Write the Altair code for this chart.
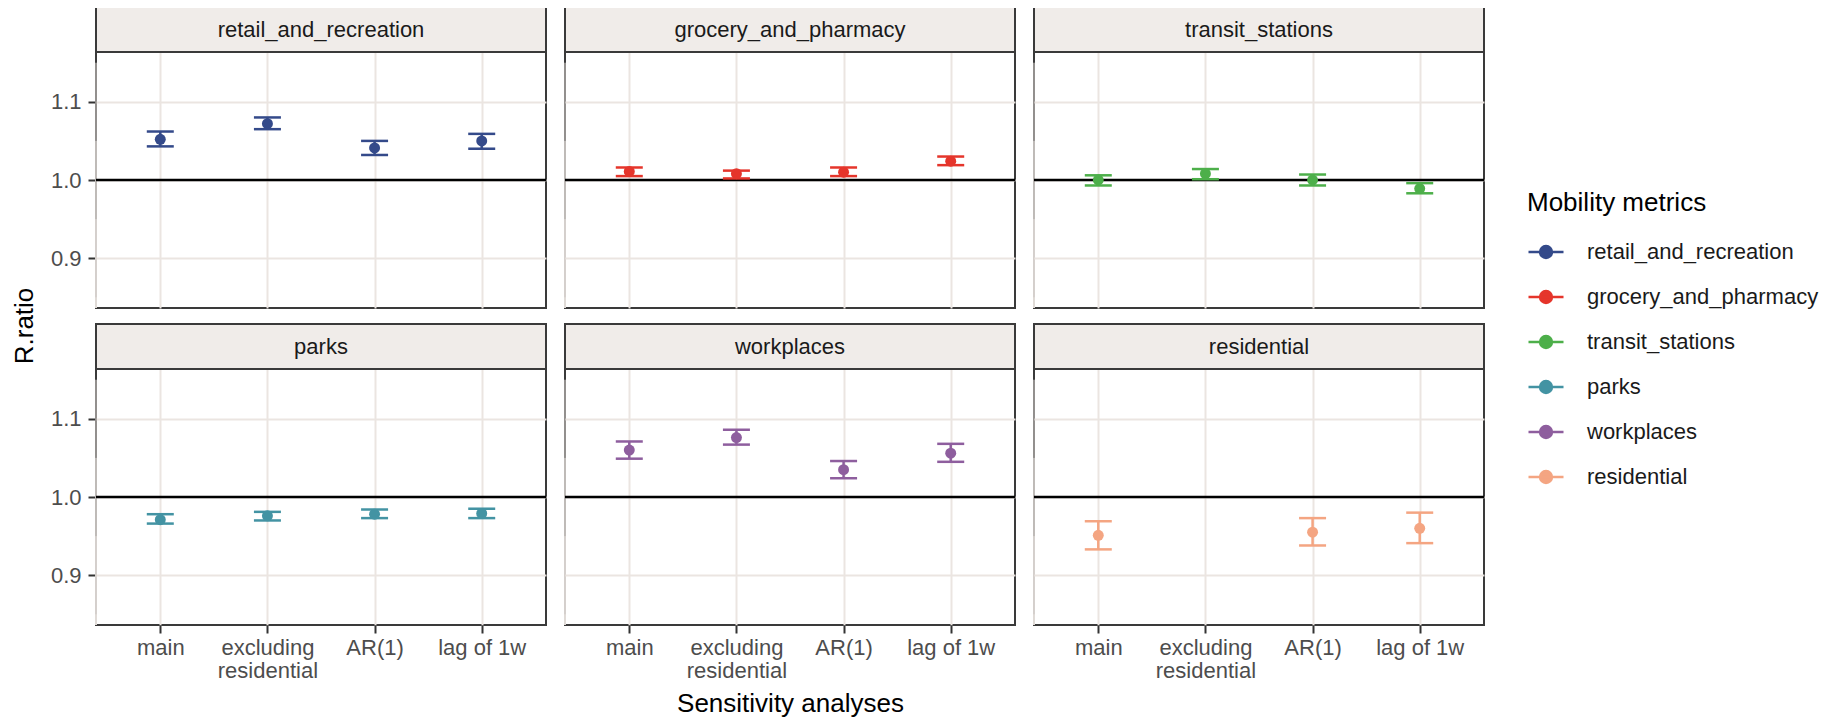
import altair as alt
import pandas as pd

# ---------------- data ----------------
metrics = ["retail_and_recreation", "grocery_and_pharmacy", "transit_stations",
           "parks", "workplaces", "residential"]
analyses = ["main", "excluding residential", "AR(1)", "lag of 1w"]
colors = ["#344A8A", "#E5352B", "#4DAF4A", "#4393A3", "#8E5E9E", "#F4A582"]

metric_col = (["retail_and_recreation"] * 4 + ["grocery_and_pharmacy"] * 4 +
              ["transit_stations"] * 4 + ["parks"] * 4 + ["workplaces"] * 4 +
              ["residential"] * 3)
analysis_col = (analyses * 5) + ["main", "AR(1)", "lag of 1w"]
est = [1.052, 1.072, 1.041, 1.050,
       1.011, 1.008, 1.010, 1.024,
       1.000, 1.008, 1.000, 0.989,
       0.971, 0.976, 0.978, 0.979,
       1.060, 1.076, 1.035, 1.056,
       0.951, 0.955, 0.960]
lo = [1.043, 1.065, 1.032, 1.040,
      1.005, 1.002, 1.005, 1.019,
      0.993, 1.001, 0.993, 0.983,
      0.966, 0.970, 0.973, 0.973,
      1.049, 1.067, 1.024, 1.045,
      0.933, 0.938, 0.941]
hi = [1.062, 1.080, 1.050, 1.059,
      1.016, 1.012, 1.016, 1.030,
      1.006, 1.014, 1.007, 0.996,
      0.978, 0.981, 0.984, 0.985,
      1.071, 1.086, 1.046, 1.068,
      0.969, 0.973, 0.980]

major_breaks = [0.9, 1.0, 1.1]
minor_breaks = [0.85, 0.95, 1.05, 1.15]
y_domain = [0.8363, 1.1637]
ref_value = 1.0
x_title = "Sensitivity analyses"
y_title = "R.ratio"
legend_title = "Mobility metrics"

df = pd.DataFrame({"metric": metric_col, "analysis": analysis_col,
                   "est": est, "lo": lo, "hi": hi})

# ---------------- styling ----------------
FONT = "Liberation Sans"
W, H = 450, 256
STRIP = 45
BORDER = "#3A3A3A"
GRID = "#EBE5E1"

color_scale = alt.Scale(domain=metrics, range=colors)
symbol_path = ("M-1,0L1,0M0.34,0A0.34,0.34,0,1,1,-0.34,0"
               "A0.34,0.34,0,1,1,0.34,0Z")
legend = alt.Legend(title=legend_title, orient="none",
                    legendX=1431, legendY=138, padding=0,
                    symbolType=symbol_path, symbolSize=1225,
                    symbolStrokeWidth=2.5, symbolOpacity=1, rowPadding=15,
                    labelOffset=22, titlePadding=17, labelLimit=400)
color_enc = alt.Color("metric:N", scale=color_scale, legend=legend)

x_scale = alt.Scale(type="point", padding=0.6, domain=analyses)
y_scale = alt.Scale(domain=y_domain, nice=False, zero=False)
LABEL_EXPR = ("datum.label == 'excluding residential' ? "
              "['excluding', 'residential'] : datum.label")


def make_panel(i):
    m = metrics[i]
    row, col = divmod(i, 3)
    show_x = row == 1
    show_y = col == 0
    x_kw = dict(labels=show_x, ticks=show_x, grid=True, labelAngle=0,
                labelExpr=LABEL_EXPR, labelLineHeight=23, labelPadding=4,
                titlePadding=9)
    x_axis = alt.Axis(title=x_title, **x_kw) if (row == 1 and col == 1) \
        else alt.Axis(title=None, **x_kw)
    y_axis = alt.Axis(title=None, values=major_breaks, format=".1f",
                      labels=show_y, ticks=show_y, grid=True, labelPadding=7)
    xenc = alt.X("analysis:N", sort=analyses, scale=x_scale, axis=x_axis)

    def yenc(f):
        return alt.Y(f, scale=y_scale, axis=y_axis)

    base = alt.Chart()
    agg = dict(n="count()", groupby=["metric"])

    minor = base.transform_aggregate(**agg).transform_calculate(
        v=str(minor_breaks)
    ).transform_flatten(["v"]).mark_rule(color=GRID, strokeWidth=1).encode(
        x=xenc, y=yenc("v:Q")
    )
    ref = base.transform_aggregate(**agg).transform_calculate(
        r=str(ref_value)
    ).mark_rule(color="black", strokeWidth=2.5).encode(y=yenc("r:Q"))
    bars = base.mark_rule(strokeWidth=2.5, opacity=1).encode(
        x=xenc, y=yenc("lo:Q"), y2="hi:Q", color=color_enc
    )
    cap_lo = base.mark_tick(size=27, thickness=2.5, opacity=1).encode(
        x=xenc, y=yenc("lo:Q"), color=color_enc
    )
    cap_hi = base.mark_tick(size=27, thickness=2.5, opacity=1).encode(
        x=xenc, y=yenc("hi:Q"), color=color_enc
    )
    points = base.mark_point(filled=True, size=120, opacity=1).encode(
        x=xenc, y=yenc("est:Q"), color=color_enc
    )
    strip_bg = base.transform_aggregate(**agg).mark_rect(
        fill="#F0ECE9", stroke=BORDER, strokeWidth=2
    ).encode(x=alt.value(0), x2=alt.value(W), y=alt.value(-STRIP), y2=alt.value(0))
    strip_txt = base.transform_aggregate(**agg).mark_text(
        font=FONT, fontSize=22, color="#1A1A1A"
    ).encode(x=alt.value(W / 2), y=alt.value(-STRIP / 2), text="metric:N")

    return alt.layer(minor, ref, bars, cap_lo, cap_hi, points, strip_bg, strip_txt,
                     data=df).transform_filter(
        alt.datum.metric == m
    ).properties(width=W, height=H)


top = alt.hconcat(*[make_panel(i) for i in range(3)], spacing=13)
bottom = alt.hconcat(*[make_panel(i) for i in range(3, 6)], spacing=13)

chart = alt.vconcat(top, bottom, spacing=12).resolve_scale(
    color="shared"
).resolve_legend(color="shared").properties(
    title=alt.TitleParams(y_title, orient="left", anchor="middle", fontSize=26,
                          font=FONT, fontWeight="normal", color="black",
                          offset=11, dx=35),
    padding={"left": 4, "top": -3, "right": 0, "bottom": 0},
).configure_view(
    stroke=BORDER, strokeWidth=2, fill="white"
).configure_axis(
    domain=False, gridColor=GRID, gridWidth=2, tickColor="#333333",
    tickWidth=2, tickSize=8, labelFont=FONT, labelFontSize=22,
    labelColor="#4D4D4D", titleFont=FONT, titleFontSize=26,
    titleColor="black", titleFontWeight="normal"
).configure_legend(
    titleFont=FONT, titleFontSize=26, titleFontWeight="normal",
    titleColor="black", labelFont=FONT, labelFontSize=22, labelColor="#1A1A1A"
)

chart.save("out.html", embed_options={"renderer": "svg", "actions": False})
